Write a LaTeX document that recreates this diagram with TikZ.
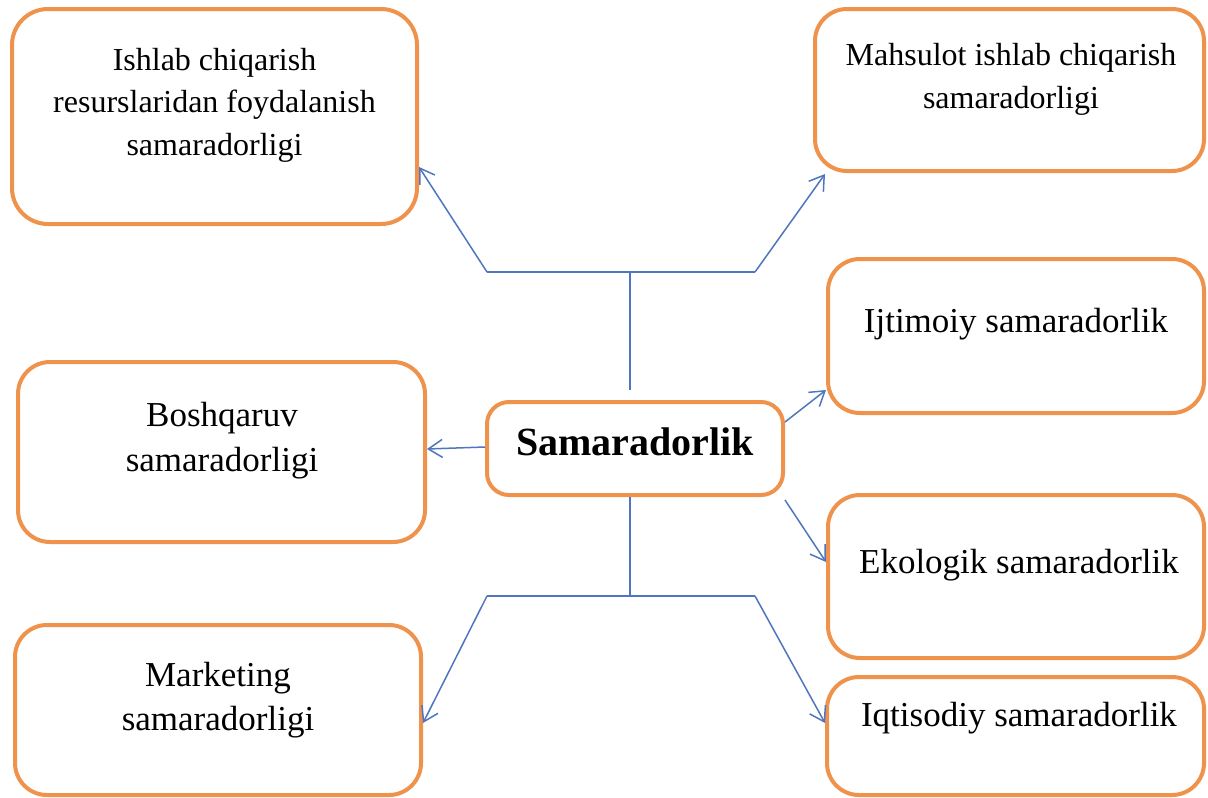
\documentclass[tikz,border=0pt]{standalone}
\usepackage{fontspec}
\setmainfont{Liberation Serif}
\usetikzlibrary{arrows.meta,calc}
\definecolor{boxorange}{RGB}{239,146,76}
\definecolor{linkblue}{RGB}{79,118,190}
\begin{document}
\begin{tikzpicture}[x=1pt,y=-1pt,
  box/.style={draw=boxorange, line width=4pt, rounded corners=32pt, fill=white, inner sep=0pt},
  centerbox/.style={box, rounded corners=22pt},
  txt/.style={anchor=base, inner sep=0pt, font=\fontsize{35}{42}\selectfont},
  smalltxt/.style={anchor=base, inner sep=0pt, font=\fontsize{32}{42}\selectfont},
  bigtxt/.style={anchor=base, inner sep=0pt, font=\fontsize{40}{48}\selectfont\bfseries},
  link/.style={draw=linkblue, line width=1.5pt},
  linkarrow/.style={link, -{Straight Barb[length=14pt,width=18pt,line width=1.5pt]}}
]
\useasboundingbox (0,0) rectangle (1208,798);
\fill[white] (0,0) rectangle (1208,798);

% boxes
\node[box, minimum width=405pt, minimum height=215pt, rounded corners=36pt] (b1) at (214.5,116.5) {};
\node[box, minimum width=389pt, minimum height=162pt] (b2) at (1009.5,90) {};
\node[box, minimum width=376pt, minimum height=154pt] (b3) at (1016,336) {};
\node[box, minimum width=407pt, minimum height=180pt] (b4) at (221.5,452) {};
\node[centerbox, minimum width=296pt, minimum height=93pt] (ctr) at (635,448.5) {};
\node[box, minimum width=376pt, minimum height=163pt] (b5) at (1016,576.5) {};
\node[box, minimum width=406pt, minimum height=170pt] (b6) at (218,710) {};
\node[box, minimum width=377pt, minimum height=118pt] (b7) at (1015.5,736) {};

% texts
\node[smalltxt] (t1a) at (214.5,70) {Ishlab chiqarish};
\node[smalltxt] (t1b) at (214.5,112) {resurslaridan foydalanish};
\node[smalltxt] (t1c) at (214.5,155) {samaradorligi};
\node[smalltxt] (t2a) at (1011,65) {Mahsulot ishlab chiqarish};
\node[smalltxt] (t2b) at (1011,108) {samaradorligi};
\node[txt] (t3) at (1016,332) {Ijtimoiy samaradorlik};
\node[txt] (t4a) at (222,426) {Boshqaruv};
\node[txt] (t4b) at (222,471) {samaradorligi};
\node[bigtxt] (tc) at (635,455) {Samaradorlik};
\node[txt] (t5) at (1019,573) {Ekologik samaradorlik};
\node[txt] (t6a) at (218,686) {Marketing};
\node[txt] (t6b) at (218,730) {samaradorligi};
\node[txt] (t7) at (1019,726) {Iqtisodiy samaradorlik};

% top branch
\coordinate (tt) at (630,390);
\coordinate (tj) at (630,272);
\coordinate (tl) at (487,272);
\coordinate (tr) at (755,272);
\draw[link] (tt) -- (tj);
\draw[link] (tl) -- (tr);
\draw[linkarrow] (tl) -- (b1.east |- 0,167);
\draw[linkarrow] (tr) -- ($(b2.south west)+(12,1)$);

% side arrows
\draw[linkarrow] (ctr.east |- 0,422) -- (b3.west |- 0,390);
\draw[linkarrow] (ctr.west |- 0,447) -- (b4.east |- 0,449);
\draw[linkarrow] (ctr.east |- 0,500) -- (b5.west |- 0,562);

% bottom branch
\coordinate (bj) at (630,596);
\coordinate (bl) at (487,596);
\coordinate (br) at (755,596);
\draw[link] (ctr.south -| bj) -- (bj);
\draw[link] (bl) -- (br);
\draw[linkarrow] (bl) -- (b6.east |- 0,723);
\draw[linkarrow] (br) -- (b7.west |- 0,723);
\end{tikzpicture}
\end{document}
